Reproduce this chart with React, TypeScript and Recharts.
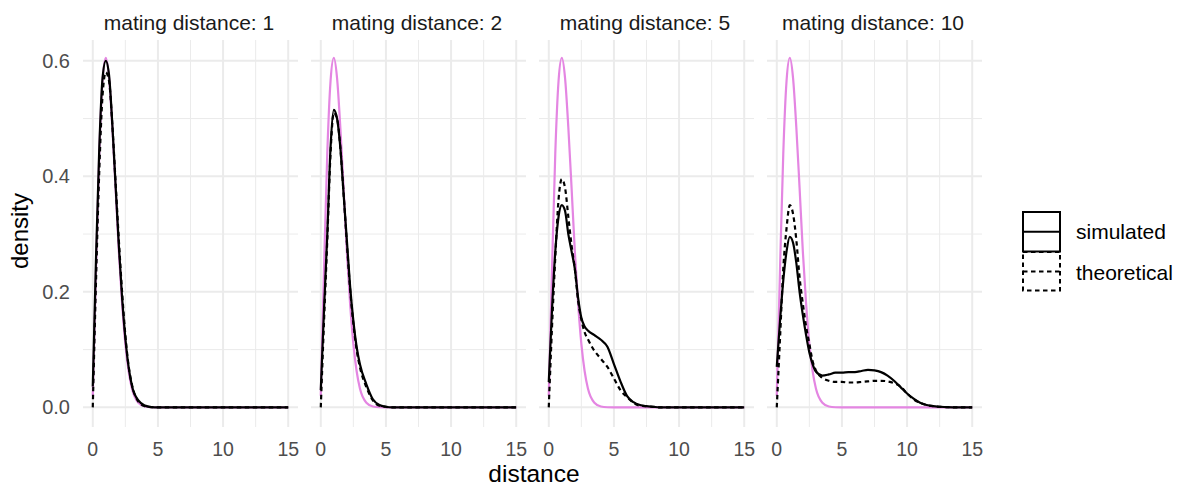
import { LineChart, Line, XAxis, YAxis, CartesianGrid } from "recharts";

// distance grid shared by every curve
const distances = [
  0, 0.25, 0.5, 0.75, 1, 1.25, 1.5, 1.75, 2, 2.25, 2.5, 2.75, 3, 3.5, 4, 4.5, 5,
  5.5, 6, 6.5, 7, 7.5, 8, 8.5, 9, 9.5, 10, 10.5, 11, 11.5, 12, 13, 14, 15,
];

const matingDistances = [1, 2, 5, 10];

// pink reference curve (same in every panel)
const referenceCurve = [
  0.02, 0.24, 0.44, 0.565, 0.605, 0.57, 0.485, 0.38, 0.27, 0.18, 0.11, 0.063,
  0.033, 0.008, 0.0015, 0.0002, 0, 0, 0, 0, 0, 0, 0, 0, 0, 0, 0, 0, 0, 0, 0, 0,
  0, 0,
];

const simulated1 = [
  0.036, 0.26, 0.45, 0.57, 0.6, 0.575, 0.49, 0.385, 0.28, 0.19, 0.12, 0.07,
  0.038, 0.012, 0.003, 0.0005, 0, 0, 0, 0, 0, 0, 0, 0, 0, 0, 0, 0, 0, 0, 0, 0, 0,
  0,
];
const theoretical1 = [
  0, 0.22, 0.41, 0.54, 0.58, 0.565, 0.49, 0.39, 0.29, 0.2, 0.125, 0.072, 0.04,
  0.01, 0.002, 0.0003, 0, 0, 0, 0, 0, 0, 0, 0, 0, 0, 0, 0, 0, 0, 0, 0, 0, 0,
];

const simulated2 = [
  0.03, 0.17, 0.3, 0.45, 0.515, 0.5, 0.45, 0.37, 0.29, 0.21, 0.15, 0.105, 0.075,
  0.04, 0.014, 0.004, 0.001, 0, 0, 0, 0, 0, 0, 0, 0, 0, 0, 0, 0, 0, 0, 0, 0, 0,
];
const theoretical2 = [
  0, 0.15, 0.29, 0.44, 0.51, 0.5, 0.45, 0.37, 0.285, 0.205, 0.145, 0.1, 0.07,
  0.035, 0.012, 0.003, 0.001, 0, 0, 0, 0, 0, 0, 0, 0, 0, 0, 0, 0, 0, 0, 0, 0, 0,
];

const simulated5 = [
  0.044, 0.17, 0.27, 0.33, 0.35, 0.34, 0.3, 0.27, 0.24, 0.19, 0.155, 0.14,
  0.133, 0.125, 0.117, 0.105, 0.075, 0.045, 0.02, 0.009, 0.004, 0.002, 0.001, 0,
  0, 0, 0, 0, 0, 0, 0, 0, 0, 0,
];
const theoretical5 = [
  0, 0.14, 0.26, 0.36, 0.395, 0.38, 0.33, 0.28, 0.24, 0.185, 0.152, 0.13, 0.118,
  0.098, 0.084, 0.07, 0.05, 0.03, 0.018, 0.008, 0.003, 0.002, 0.001, 0, 0, 0, 0,
  0, 0, 0, 0, 0, 0, 0,
];

const simulated10 = [
  0.07, 0.15, 0.22, 0.27, 0.295, 0.285, 0.25, 0.2, 0.16, 0.125, 0.095, 0.075,
  0.062, 0.055, 0.057, 0.06, 0.06, 0.061, 0.061, 0.063, 0.065, 0.064, 0.061,
  0.055, 0.046, 0.035, 0.024, 0.015, 0.008, 0.004, 0.002, 0.0005, 0, 0,
];
const theoretical10 = [
  0, 0.12, 0.24, 0.31, 0.35, 0.335, 0.29, 0.225, 0.18, 0.14, 0.11, 0.08, 0.064,
  0.051, 0.046, 0.044, 0.044, 0.043, 0.043, 0.044, 0.045, 0.046, 0.046, 0.045,
  0.042, 0.036, 0.024, 0.014, 0.008, 0.004, 0.002, 0.0005, 0, 0,
];

const simulatedSets = [simulated1, simulated2, simulated5, simulated10];
const theoreticalSets = [theoretical1, theoretical2, theoretical5, theoretical10];

const xTicks = [0, 5, 10, 15];
const xMinor = [2.5, 7.5, 12.5];
const yTicks = [0, 0.2, 0.4, 0.6];
const yMinor = [0.1, 0.3, 0.5];

const FONT = '"Liberation Sans", Arial, Helvetica, sans-serif';
const PANEL_LEFTS = [83, 311, 539, 767];
const PANEL_W = 215;
const PINK = "#E486E2";
const DASH = "4.5 3.5";
const LW = 2.2;

const Panel = ({ index }: { index: number }) => {
  const data = distances.map((x, i) => ({
    x,
    reference: referenceCurve[i],
    simulated: simulatedSets[index][i],
    theoretical: theoreticalSets[index][i],
  }));
  const first = index === 0;
  const left = first ? 0 : PANEL_LEFTS[index] - 10;
  const width = first ? 83 + PANEL_W + 12 : 10 + PANEL_W + 12;

  return (
    <div style={{ position: "absolute", left, top: 0 }}>
      <LineChart
        width={width}
        height={485}
        data={data}
        margin={{ top: 40, right: 12, bottom: 0, left: first ? 0 : 10 }}
      >
        <CartesianGrid
          stroke="#EBEBEB"
          strokeWidth={1}
          horizontalValues={yMinor}
          verticalValues={xMinor}
        />
        <CartesianGrid
          stroke="#EBEBEB"
          strokeWidth={2}
          horizontalValues={yTicks}
          verticalValues={xTicks}
        />
        <XAxis
          type="number"
          dataKey="x"
          domain={[-0.75, 15.75]}
          ticks={xTicks}
          interval={0}
          allowDataOverflow
          axisLine={false}
          tickLine={false}
          height={58}
          tickMargin={9}
          tick={{ fill: "#4D4D4D", fontSize: 19.5, fontFamily: FONT }}
        />
        <YAxis
          type="number"
          domain={[-0.034, 0.636]}
          ticks={yTicks}
          interval={0}
          allowDataOverflow
          axisLine={false}
          tickLine={false}
          width={83}
          tickMargin={7}
          hide={!first}
          tickFormatter={(v: number) => v.toFixed(1)}
          tick={{ fill: "#4D4D4D", fontSize: 20, fontFamily: FONT }}
        />
        <Line
          type="monotone"
          dataKey="reference"
          stroke={PINK}
          strokeWidth={LW}
          dot={false}
          isAnimationActive={false}
        />
        <Line
          type="monotone"
          dataKey="simulated"
          stroke="#000000"
          strokeWidth={LW}
          dot={false}
          isAnimationActive={false}
        />
        <Line
          type="monotone"
          dataKey="theoretical"
          stroke="#000000"
          strokeWidth={LW}
          strokeDasharray={DASH}
          dot={false}
          isAnimationActive={false}
        />
      </LineChart>
    </div>
  );
};

const Overlay = () => (
  <svg
    width={1181}
    height={485}
    style={{ position: "absolute", left: 0, top: 0, pointerEvents: "none" }}
    fontFamily={FONT}
  >
    {matingDistances.map((d, i) => (
      <text
        key={d}
        x={PANEL_LEFTS[i] + PANEL_W / 2 - 1.5}
        y={30}
        textAnchor="middle"
        fontSize={21}
        fill="#1A1A1A"
      >
        {`mating distance: ${d}`}
      </text>
    ))}
    <text x={534} y={481.5} textAnchor="middle" fontSize={24.5} fill="#000000">
      distance
    </text>
    <text
      transform="translate(28,231) rotate(-90)"
      textAnchor="middle"
      fontSize={24}
      fill="#000000"
    >
      density
    </text>

    {/* legend */}
    <rect x={1023} y={212} width={37} height={39.5} fill="none" stroke="#000" strokeWidth={2} />
    <line x1={1023} x2={1060} y1={231.7} y2={231.7} stroke="#000" strokeWidth={2} />
    <rect
      x={1023}
      y={252}
      width={37}
      height={38.5}
      fill="none"
      stroke="#000"
      strokeWidth={2}
      strokeDasharray={DASH}
    />
    <line
      x1={1023}
      x2={1060}
      y1={271.5}
      y2={271.5}
      stroke="#000"
      strokeWidth={2}
      strokeDasharray={DASH}
    />
    <text x={1076} y={238.5} fontSize={21} fill="#000000">
      simulated
    </text>
    <text x={1076} y={279.5} fontSize={21} fill="#000000">
      theoretical
    </text>
  </svg>
);

export default function App() {
  return (
    <div
      style={{
        position: "absolute",
        left: 0,
        top: 0,
        width: 1181,
        height: 485,
        background: "#FFFFFF",
      }}
    >
      {matingDistances.map((d, i) => (
        <Panel key={d} index={i} />
      ))}
      <Overlay />
    </div>
  );
}
